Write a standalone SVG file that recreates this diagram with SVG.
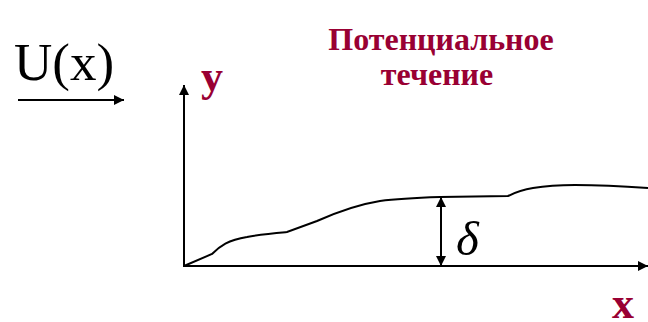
<svg xmlns="http://www.w3.org/2000/svg" width="648" height="322" viewBox="0 0 648 322">
<style>
.ln{stroke:#000;stroke-width:2;fill:none}
.lbl{font-family:"Liberation Serif",serif;font-weight:bold;fill:#990033}
.ser{font-family:"Liberation Serif",serif;fill:#000}
</style>
<defs>
<marker id="ahs" viewBox="0 0 10 10" refX="10" refY="5" markerWidth="13" markerHeight="10" markerUnits="userSpaceOnUse" orient="auto-start-reverse">
<path d="M0,0 L10,5 L0,10 Z" fill="#000"/>
</marker>
</defs>
<g id="flow">
<text class="ser" x="14" y="80" font-size="53">U(x)</text>
</g>
<g id="title">
<text class="lbl" x="441" y="50" font-size="32" text-anchor="middle">Потенциальное</text>
<text class="lbl" x="437" y="85" font-size="32" text-anchor="middle">течение</text>
</g>
<g id="axis-y-label"><text class="lbl" x="201" y="91" font-size="44">y</text></g>
<g id="axis-x-label"><text class="lbl" x="612" y="318" font-size="44">x</text></g>
<g id="delta-label"><text class="ser" x="456" y="255" font-size="49" font-style="italic">δ</text></g>
<g id="connectors">
<line class="ln" x1="18" y1="100" x2="124" y2="100" marker-end="url(#ahs)"/>
<line class="ln" x1="184" y1="267" x2="184" y2="85" marker-end="url(#ahs)"/>
<line class="ln" x1="184" y1="266" x2="648" y2="266" marker-end="url(#ahs)"/>
<line class="ln" x1="441" y1="197" x2="441" y2="266" marker-start="url(#ahs)" marker-end="url(#ahs)"/>
<path class="ln" d="M184,266 L212,254 C220,246 228,240 247,237 C262,234 275,233 287,232 L317,221 C335,213 355,205 380,201 C395,199 410,198 440,197 L508,196 C512,194 520,190 533,188 C545,186 555,185 575,185 C595,185 620,186 648,188"/>
</g>
</svg>
